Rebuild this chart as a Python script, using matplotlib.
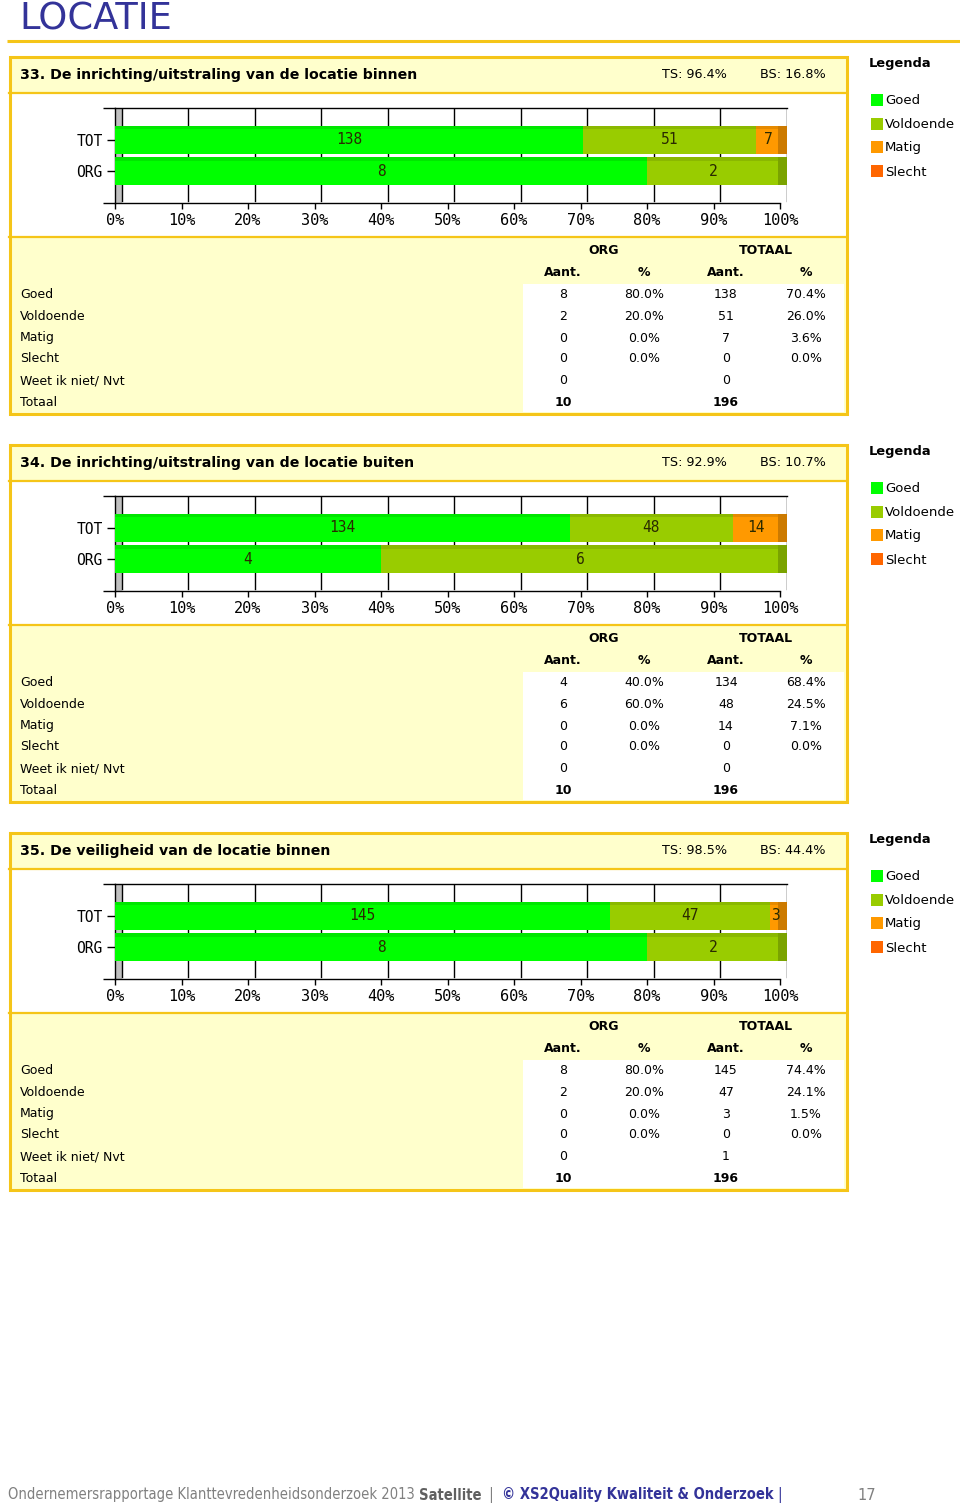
import matplotlib
matplotlib.use("Agg")
import matplotlib.pyplot as plt
from matplotlib.patches import Rectangle
from matplotlib.colors import to_rgb

# page data
page_title = "LOCATIE"
questions = ["33. De inrichting/uitstraling van de locatie binnen",
             "34. De inrichting/uitstraling van de locatie buiten",
             "35. De veiligheid van de locatie binnen"]
ts_scores = ["96.4%", "92.9%", "98.5%"]
bs_scores = ["16.8%", "10.7%", "44.4%"]

categories = ["Goed", "Voldoende", "Matig", "Slecht"]
row_labels = ["Goed", "Voldoende", "Matig", "Slecht", "Weet ik niet/ Nvt", "Totaal"]

# counts per category (Goed, Voldoende, Matig, Slecht, Weet ik niet)
org_counts = [[8, 2, 0, 0, 0], [4, 6, 0, 0, 0], [8, 2, 0, 0, 0]]
tot_counts = [[138, 51, 7, 0, 0], [134, 48, 14, 0, 0], [145, 47, 3, 0, 1]]
org_pct = [[80.0, 20.0, 0.0, 0.0], [40.0, 60.0, 0.0, 0.0], [80.0, 20.0, 0.0, 0.0]]
tot_pct = [[70.4, 26.0, 3.6, 0.0], [68.4, 24.5, 7.1, 0.0], [74.4, 24.1, 1.5, 0.0]]
org_total = [10, 10, 10]
tot_total = [196, 196, 196]

bar_labels = ["ORG", "TOT"]
x_ticks = list(range(0, 101, 10))

footer_page = "17"

# styling
cat_colors = ["#00FF00", "#99CC00", "#FF9900", "#FF6600"]
gold = "#F5C518"
cream = "#FFFFCC"
navy = "#333399"
FONT = "DejaVu Sans"
MONO = "DejaVu Sans Mono"


def shade(c, f):
    r, g, b = to_rgb(c)
    return (r * f, g * f, b * f)


fig = plt.figure(figsize=(9.6, 15.09), dpi=100)
bg = fig.add_axes([0, 0, 1, 1])
bg.set_xlim(0, 960)
bg.set_ylim(1509, 0)
bg.axis("off")

# page header
bg.text(19, 29, page_title, fontsize=26.5, color=navy, family=FONT, va="baseline")
bg.plot([7, 960], [41, 41], color=gold, lw=2.2, solid_capstyle="butt")

BLOCK = 388
D = 1.05  # 3d depth in percent units

for i, q in enumerate(questions):
    o = i * BLOCK
    top, head_bot, chart_bot, bot = 57 + o, 93 + o, 237 + o, 414 + o

    # block backgrounds
    bg.add_patch(Rectangle((9, top), 838, head_bot - top, facecolor=cream, edgecolor="none"))
    bg.add_patch(Rectangle((9, chart_bot), 838, bot - chart_bot, facecolor=cream, edgecolor="none"))
    bg.add_patch(Rectangle((523, 284 + o), 321, 128, facecolor="white", edgecolor="none"))
    bg.plot([9, 847], [head_bot, head_bot], color=gold, lw=1.6)
    bg.plot([9, 847], [chart_bot, chart_bot], color=gold, lw=1.6)
    bg.add_patch(Rectangle((9.5, top), 837, bot - top, facecolor="none", edgecolor=gold, lw=2.2))

    # header texts
    bg.text(20, 75 + o, q, fontsize=10.2, fontweight="bold", family=FONT, va="center")
    bg.text(662, 75 + o, "TS: " + ts_scores[i], fontsize=9.2, family=FONT, va="center")
    bg.text(760, 75 + o, "BS: " + bs_scores[i], fontsize=9.2, family=FONT, va="center")

    # table
    bg.text(604, 251 + o, "ORG", fontsize=9, fontweight="bold", ha="center", va="center", family=FONT)
    bg.text(766, 251 + o, "TOTAAL", fontsize=9, fontweight="bold", ha="center", va="center", family=FONT)
    for xc, h in zip([563, 644, 726, 806], ["Aant.", "%", "Aant.", "%"]):
        bg.text(xc, 272 + o, h, fontsize=9, fontweight="bold", ha="center", va="center", family=FONT)
    row_y = [294, 316, 338, 359, 381, 402]
    for r, lab in enumerate(row_labels):
        y = row_y[r] + o
        bg.text(20, y, lab, fontsize=9, va="center", family=FONT)
        if r < 5:
            bg.text(563, y, str(org_counts[i][r]), fontsize=9, ha="center", va="center", family=FONT)
            bg.text(726, y, str(tot_counts[i][r]), fontsize=9, ha="center", va="center", family=FONT)
        if r < 4:
            bg.text(644, y, f"{org_pct[i][r]:.1f}%", fontsize=9, ha="center", va="center", family=FONT)
            bg.text(806, y, f"{tot_pct[i][r]:.1f}%", fontsize=9, ha="center", va="center", family=FONT)
        if r == 5:
            bg.text(563, y, str(org_total[i]), fontsize=9, fontweight="bold", ha="center", va="center", family=FONT)
            bg.text(726, y, str(tot_total[i]), fontsize=9, fontweight="bold", ha="center", va="center", family=FONT)

    # legend
    bg.text(869, 64 + o, "Legenda", fontsize=9.4, fontweight="bold", va="center", family=FONT)
    for k, (cat, col) in enumerate(zip(categories, cat_colors)):
        y = [101, 125, 148, 172][k] + o
        bg.add_patch(Rectangle((871, y - 7), 12, 12, facecolor=col, edgecolor="none"))
        bg.text(885, y, cat, fontsize=9.5, va="center", family=FONT)

    # bar chart
    ax = fig.add_axes([115 / 960, 1 - (203 + o) / 1509, (787 - 115) / 960, 95 / 1509])
    ax.set_xlim(0, 100 + D)
    ax.set_ylim(0, 3)
    ax.patch.set_alpha(0)
    for s in ["top", "right"]:
        ax.spines[s].set_visible(False)
    ax.spines["bottom"].set_bounds(0, 100)
    ax.spines["bottom"].set_linewidth(1)
    ax.spines["left"].set_linewidth(1)

    # back wall, grid and frame
    ax.fill_betweenx([0, 3], 0, D, color="#C0C0C0", zorder=1, lw=0)
    for g in x_ticks:
        ax.plot([g + D, g + D], [0.05, 3], color="black", lw=1, zorder=1)
    ax.plot([0, 100 + D], [3, 3], color="black", lw=1, zorder=1, clip_on=False)

    pct_rows = [org_pct[i], tot_pct[i]]
    cnt_rows = [org_counts[i], tot_counts[i]]
    for yb, (pcts, cnts) in enumerate(zip(pct_rows, cnt_rows), start=1):
        left = 0
        last_col = None
        for p, c, col in zip(pcts, cnts, cat_colors):
            if p <= 0:
                continue
            ax.barh(yb, p, left=left, height=0.88, color=col, zorder=3, lw=0)
            ax.barh(yb + 0.39, p, left=left, height=0.1, color=shade(col, 0.9), zorder=3, lw=0)
            ax.text(left + p / 2, yb, str(c), ha="center", va="center",
                    fontsize=10.5, family=MONO, color="#2a2a00", zorder=4)
            left += p
            last_col = col
        ax.barh(yb, D + 0.3, left=100 - 0.3, height=0.88, color=shade(last_col, 0.8), zorder=3, lw=0)

    ax.set_xticks(x_ticks)
    ax.set_xticklabels([f"{t}%" for t in x_ticks], family=MONO, fontsize=11)
    ax.set_yticks([1, 2])
    ax.set_yticklabels(bar_labels, family=MONO, fontsize=10.5)
    ax.set_yticks([0, 3], minor=True)
    ax.tick_params(axis="x", length=4, pad=3, width=1)
    ax.tick_params(axis="y", which="major", length=6, pad=3, width=1)
    ax.tick_params(axis="y", which="minor", length=9, width=1)

# footer
renderer = fig.canvas.get_renderer()
parts = [("Ondernemersrapportage Klanttevredenheidsonderzoek 2013 ", "#808080", "normal"),
         ("Satellite", "#606060", "bold"),
         ("  |  ", "#808080", "normal"),
         ("© XS2Quality Kwaliteit & Onderzoek", navy, "bold"),
         (" |", navy, "normal")]
x = 8
for txt, col, w in parts:
    t = bg.text(x, 1495, txt, fontsize=10.5, color=col, fontweight=w, va="center",
                family=["Liberation Sans Narrow", "DejaVu Sans"], fontstretch="condensed")
    x = t.get_window_extent(renderer).x1
bg.text(857, 1495, footer_page, fontsize=10.5, color="#808080", va="center",
        family=["Liberation Sans Narrow", "DejaVu Sans"])

fig.savefig("out.png", dpi=100)
